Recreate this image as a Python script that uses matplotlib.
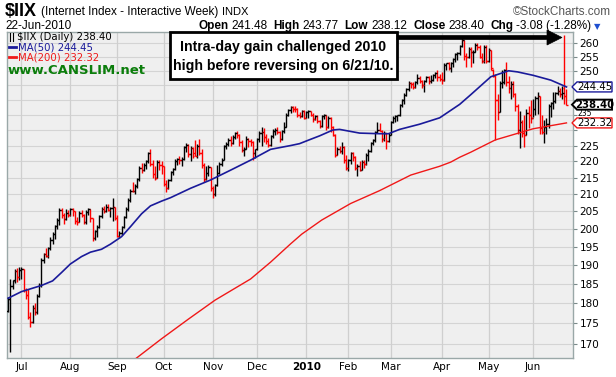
import numpy as np
import pandas as pd
import matplotlib
matplotlib.use('Agg')
import matplotlib.pyplot as plt
from matplotlib.patches import Polygon, Rectangle
from matplotlib.ticker import FixedLocator, FixedFormatter, NullLocator

W, H = 616, 377

# торговые дни 23.06.2009 - 22.06.2010 (без праздников NYSE)
holidays = ['2009-07-03', '2009-09-07', '2009-11-26', '2009-12-25', '2010-01-01',
            '2010-01-18', '2010-02-15', '2010-04-02', '2010-05-31']
dates = pd.bdate_range('2009-06-23', '2010-06-22')
dates = dates[~dates.isin(pd.to_datetime(holidays))]

# OHLC по дням (оценка по картинке)
opens = [
    178.0, 181.0, 184.5, 186.0, 188.4, 186.8,
    188.8, 188.9, 183.5, 182.0, 176.5, 175.2, 178.8, 177.8, 181.8, 184.8, 191.5, 193.0, 192.5, 194.6, 197.0, 198.6,
    200.8, 202.6, 205.5, 204.0, 202.8, 204.5,
    204.0, 205.7, 205.0, 202.3, 202.0, 204.5, 204.0, 201.8, 204.8, 205.6, 203.0, 197.3, 199.3, 200.6, 203.6, 205.8,
    205.0, 206.3, 205.5, 205.9, 206.2,
    203.0, 198.0, 198.8, 200.5, 203.5, 205.8, 208.3, 211.0, 210.9, 212.6, 214.5, 218.0, 217.5, 219.0, 220.0, 222.5,
    219.2, 216.0, 215.0, 219.8, 218.8,
    218.5, 213.0, 212.0, 214.2, 216.6, 217.7, 220.2, 220.9, 220.5, 220.8, 224.5, 225.2, 222.3, 224.2, 222.5, 221.7,
    224.8, 222.5, 219.0, 214.5, 216.5, 218.2,
    211.8, 210.0, 212.8, 216.5, 219.3, 220.6, 225.0, 225.4, 226.8, 225.8, 227.8, 229.0, 228.5, 226.0, 223.5, 224.0,
    227.0, 226.5, 226.2, 222.5,
    223.8, 227.0, 229.0, 229.3, 227.8, 226.5, 225.2, 228.0, 229.8, 230.0, 229.5, 227.0, 229.6, 231.0, 235.0, 236.5,
    237.6, 237.0, 236.8, 235.0, 234.6, 236.2,
    234.0, 236.0, 236.2, 235.0, 233.5, 234.6, 233.0, 231.2, 234.5, 234.8, 231.0, 234.0, 231.0, 228.5, 222.0, 224.0,
    223.2, 224.5, 220.5,
    218.0, 220.3, 222.5, 221.5, 218.0, 218.6, 217.5, 219.8, 219.3, 222.0, 223.3, 225.8, 226.8, 229.3, 230.0, 229.8,
    227.0, 229.0, 226.5,
    228.5, 232.5, 234.0, 234.5, 234.8, 238.2, 240.0, 241.8, 243.6, 245.8, 245.3, 244.5, 246.2, 247.5, 246.5, 245.0,
    246.6, 248.0, 246.5, 247.0, 248.6, 249.2, 248.0,
    247.2, 246.8, 252.2, 252.8, 251.0, 253.0, 254.2, 256.0, 256.6, 259.0, 261.2, 255.5, 255.0, 258.0, 256.8, 257.0,
    259.5, 258.5, 255.0, 253.5, 258.5,
    253.5, 257.5, 250.5, 248.2, 240.0, 236.0, 245.8, 246.0, 250.3, 246.0, 244.0, 245.5, 242.0, 238.0, 230.0, 232.5,
    229.0, 228.5, 235.5, 235.0,
    234.0, 237.0, 240.5, 241.2, 230.5, 229.5, 231.0, 232.0, 237.8, 238.8, 239.5, 242.2, 243.0, 242.0, 244.0, 241.48,
]
highs = [
    181.6, 186.3, 186.0, 189.0, 189.3, 189.5,
    189.4, 189.0, 184.0, 183.6, 177.8, 179.5, 180.0, 182.3, 185.2, 192.0, 193.2, 194.7, 195.0, 197.6, 199.0, 201.2,
    203.0, 206.0, 206.0, 204.5, 205.8, 205.5,
    206.0, 206.0, 205.2, 203.5, 205.0, 205.5, 204.3, 205.3, 206.0, 205.8, 203.0, 199.8, 201.0, 204.0, 206.3, 206.5,
    207.2, 207.0, 206.4, 209.0, 206.2,
    204.0, 199.5, 200.8, 203.8, 206.2, 208.8, 211.5, 213.6, 213.0, 215.0, 218.5, 219.5, 219.5, 220.3, 223.0, 223.8,
    220.5, 218.5, 220.3, 220.4, 220.0,
    218.5, 214.2, 214.6, 217.0, 218.0, 220.8, 221.2, 221.8, 221.5, 225.0, 225.9, 225.4, 224.8, 224.5, 226.7, 225.4,
    227.0, 223.8, 219.5, 218.7, 219.0, 218.3,
    212.5, 213.2, 219.0, 219.7, 221.0, 225.3, 226.2, 227.4, 228.0, 228.3, 229.4, 229.8, 228.8, 226.8, 224.4, 228.0,
    227.5, 227.0, 226.4, 224.0,
    227.5, 229.8, 231.0, 230.8, 228.7, 227.5, 228.5, 230.4, 230.8, 231.0, 229.8, 230.0, 232.7, 235.5, 236.8, 237.9,
    237.9, 237.8, 237.2, 236.0, 236.5, 236.5,
    236.3, 236.5, 236.3, 235.6, 235.0, 235.0, 233.4, 235.0, 235.2, 234.9, 234.5, 234.2, 231.2, 228.7, 224.4, 225.0,
    226.2, 225.0, 222.0,
    220.7, 223.0, 223.0, 221.6, 219.2, 220.0, 220.3, 220.5, 222.5, 223.8, 226.2, 227.0, 229.8, 232.5, 232.3, 230.0,
    229.8, 229.1, 229.0,
    232.8, 234.5, 235.0, 235.0, 238.6, 240.4, 242.2, 244.0, 246.5, 246.0, 246.0, 246.5, 249.0, 248.3, 247.0, 247.0,
    248.3, 248.2, 248.5, 249.0, 249.6, 250.2, 249.0,
    249.6, 252.7, 253.0, 253.3, 253.3, 254.5, 256.3, 257.0, 259.4, 261.8, 261.2, 256.3, 258.8, 258.8, 257.5, 260.0,
    260.0, 259.4, 256.3, 259.4, 259.4,
    258.2, 257.5, 250.8, 249.0, 242.0, 246.5, 250.2, 250.8, 253.3, 248.3, 246.5, 246.5, 242.5, 238.6, 236.3, 233.3,
    235.0, 236.8, 238.1, 239.9,
    240.2, 241.4, 242.7, 241.5, 235.0, 233.3, 233.8, 238.7, 239.2, 242.7, 242.7, 244.7, 244.0, 244.7, 263.0, 243.77,
]
lows = [
    177.8, 168.0, 183.7, 185.2, 185.5, 186.0,
    186.4, 183.0, 181.0, 176.0, 174.0, 175.0, 177.0, 177.3, 181.5, 184.3, 190.5, 192.1, 192.0, 194.2, 195.8, 197.2,
    200.0, 201.2, 203.0, 201.5, 202.5, 203.5,
    203.8, 203.8, 201.5, 201.0, 201.8, 203.3, 201.3, 201.5, 204.0, 202.0, 196.6, 197.0, 197.8, 200.3, 203.0, 204.6,
    204.8, 205.0, 203.5, 202.2, 202.5,
    197.6, 197.3, 198.2, 200.3, 203.0, 205.2, 207.8, 210.6, 210.0, 212.0, 214.0, 216.5, 217.0, 217.8, 219.5, 218.5,
    215.0, 214.3, 215.0, 217.5, 216.0,
    212.5, 210.8, 211.5, 214.0, 215.8, 217.5, 219.0, 219.2, 218.6, 220.5, 223.0, 221.5, 220.0, 221.0, 221.6, 221.0,
    222.0, 218.0, 213.7, 214.3, 215.5, 211.0,
    209.0, 209.5, 212.6, 216.2, 218.5, 220.4, 223.8, 225.0, 225.0, 225.5, 227.0, 227.5, 225.0, 222.8, 221.7, 224.0,
    224.6, 225.0, 220.4, 221.0,
    223.5, 226.2, 225.0, 226.0, 225.5, 224.4, 224.8, 227.5, 228.5, 228.8, 226.2, 226.8, 229.1, 231.0, 234.5, 235.5,
    235.8, 236.0, 234.2, 234.0, 234.2, 233.7,
    233.8, 234.0, 234.5, 232.6, 233.2, 232.2, 230.6, 231.0, 233.5, 230.0, 230.5, 229.5, 227.9, 221.3, 222.0, 222.5,
    222.4, 219.5, 217.3,
    217.0, 219.2, 220.0, 217.5, 215.4, 217.0, 217.2, 218.0, 218.8, 220.0, 223.0, 225.2, 226.0, 229.0, 229.7, 226.2,
    226.5, 223.8, 226.0,
    228.4, 232.2, 232.5, 233.0, 234.5, 237.6, 238.6, 241.5, 243.0, 244.2, 243.6, 244.0, 245.5, 245.9, 244.0, 242.8,
    246.0, 245.3, 245.8, 246.5, 247.5, 246.5, 246.5,
    245.3, 246.5, 250.5, 250.2, 249.6, 251.4, 253.3, 253.9, 255.7, 258.8, 254.0, 251.4, 254.5, 251.4, 252.7, 257.0,
    257.5, 254.5, 252.7, 253.0, 252.7,
    253.3, 250.2, 247.8, 226.8, 233.3, 236.0, 244.0, 245.5, 244.7, 242.5, 240.4, 241.0, 236.3, 228.7, 224.1, 227.7,
    224.4, 228.5, 230.8, 232.2,
    234.2, 234.8, 235.3, 228.8, 228.8, 225.8, 228.8, 230.5, 234.4, 236.8, 239.0, 241.8, 241.0, 240.4, 238.6, 238.12,
]
closes = [
    181.0, 184.5, 185.8, 188.4, 186.8, 188.8,
    188.9, 183.5, 182.0, 176.5, 175.2, 178.8, 177.8, 181.8, 184.8, 191.5, 193.0, 192.5, 194.6, 197.0, 198.6, 200.8,
    202.6, 205.5, 204.0, 202.8, 204.5, 204.0,
    205.7, 205.0, 202.3, 202.0, 204.5, 204.0, 201.8, 204.8, 205.6, 203.0, 197.3, 199.3, 200.6, 203.6, 205.8, 205.0,
    206.3, 205.5, 205.9, 206.2, 203.0,
    198.0, 198.8, 200.5, 203.5, 205.8, 208.3, 211.0, 210.9, 212.6, 214.5, 218.0, 217.5, 219.0, 220.0, 222.5, 219.2,
    216.0, 215.0, 219.8, 218.8, 218.5,
    213.0, 212.0, 214.2, 216.6, 217.7, 220.2, 220.9, 220.5, 220.8, 224.5, 225.2, 222.3, 224.2, 221.8, 221.7, 224.8,
    222.5, 219.0, 214.5, 216.5, 218.2, 211.8,
    210.0, 212.8, 216.5, 219.3, 220.6, 225.0, 225.4, 226.8, 225.8, 227.8, 229.0, 228.5, 226.0, 223.5, 224.0, 227.0,
    226.5, 226.2, 222.5, 223.8,
    227.0, 229.0, 229.3, 227.8, 226.5, 225.2, 228.0, 229.8, 230.0, 229.5, 227.0, 229.6, 231.0, 235.0, 236.5, 237.6,
    237.0, 236.8, 235.0, 234.6, 236.2, 234.0,
    236.0, 236.2, 235.0, 233.5, 234.6, 233.0, 231.2, 234.5, 234.8, 231.0, 234.0, 231.0, 228.5, 222.0, 224.0, 223.2,
    224.5, 220.5, 218.0,
    220.3, 222.5, 221.5, 218.0, 218.6, 217.5, 219.8, 219.3, 222.0, 223.3, 225.8, 226.8, 229.3, 230.0, 229.8, 227.0,
    229.0, 226.5, 228.5,
    232.5, 234.0, 234.5, 234.8, 238.2, 240.0, 241.8, 243.6, 245.8, 245.3, 244.5, 246.2, 247.5, 246.5, 245.0, 246.6,
    248.0, 246.5, 247.0, 248.6, 249.2, 248.0, 247.2,
    246.8, 252.2, 252.8, 251.0, 253.0, 254.2, 256.0, 256.6, 259.0, 261.2, 255.5, 255.0, 258.0, 256.8, 257.0, 259.5,
    258.5, 255.0, 253.5, 258.5, 253.5,
    257.5, 251.0, 248.2, 240.0, 236.0, 245.8, 246.0, 250.3, 246.0, 244.0, 245.5, 242.0, 238.0, 230.0, 232.5, 229.0,
    228.5, 235.5, 235.0, 234.0,
    237.0, 240.5, 241.2, 230.5, 229.5, 231.0, 232.0, 237.8, 238.8, 239.5, 242.2, 243.0, 242.0, 242.5, 241.48, 238.40,
]

# скользящие средние, точки по картинке (индекс бара, значение)
ma50_idx = [0, 6, 15, 20, 24, 28, 33, 37, 42, 46, 51, 55, 60, 64, 69, 73, 82, 91, 100, 109, 118, 127, 131, 136,
            140, 146, 149, 158, 167, 171, 176, 185, 194, 203, 208, 217, 225, 229, 236, 244, 251]
ma50_val = [181.3, 183.0, 184.6, 185.8, 188.0, 190.3, 192.3, 193.5, 194.3, 195.7, 197.8, 200.6, 204.3, 206.6,
            208.0, 209.0, 211.8, 214.3, 217.3, 220.4, 223.8, 225.0, 225.6, 227.0, 228.1, 230.0, 230.2, 229.0,
            228.8, 228.8, 230.2, 231.9, 234.0, 238.5, 241.8, 248.0, 250.1, 249.7, 248.5, 246.8, 244.45]
ma200_idx = [55, 69, 81, 93, 109, 118, 127, 132, 141, 154, 167, 181, 194, 199, 203, 208, 219, 236, 251]
ma200_val = [165.5, 171.2, 176.0, 180.8, 186.3, 190.8, 195.8, 198.5, 202.5, 207.3, 211.1, 215.8, 218.5, 219.8,
             221.3, 222.9, 226.8, 230.4, 232.32]

month_names = ['Jul', 'Aug', 'Sep', 'Oct', 'Nov', 'Dec', '2010', 'Feb', 'Mar', 'Apr', 'May', 'Jun']
yticks = list(range(170, 261, 5))
hidden_ticks = [230, 235, 240, 245]   # закрыты метками справа (235 рисуется поверх отдельно)

n = len(closes)
x = np.arange(n)
o = np.array(opens); h = np.array(highs); l = np.array(lows); c = np.array(closes)
prev = np.r_[c[0], c[:-1]]
colors = np.where(c < prev, '#ff0000', '#000000')

fig = plt.figure(figsize=(W / 100, H / 100), dpi=100)
ax = fig.add_axes([7 / W, 19 / H, 565.7 / W, 326 / H])
ax.set_facecolor('#efefef')
ax.set_yscale('log')
ax.set_ylim(166.6, 264.2)
ax.set_xlim(-0.5, 253.8)

# сетка
month_start = [i for i in range(1, n) if dates[i].month != dates[i - 1].month]
for v in yticks:
    ax.axhline(v, color='#d4d4d4', lw=0.8, zorder=0)
for i in month_start:
    ax.axvline(i, color='#cfcfcf', lw=0.9, zorder=0)

# бары
ax.vlines(x, l, h, colors=colors, lw=1.0, zorder=3)
ax.hlines(o, x - 0.75, x, colors=colors, lw=1.0, zorder=3)
ax.hlines(c, x, x + 0.75, colors=colors, lw=1.0, zorder=3)

ax.plot(ma50_idx, ma50_val, color='#1a1a9a', lw=1.2, zorder=4)
ax.plot(ma200_idx, ma200_val, color='#f01818', lw=1.0, zorder=4)

ax.yaxis.tick_right()
ax.yaxis.set_major_locator(FixedLocator(yticks))
ax.yaxis.set_major_formatter(FixedFormatter(['' if v in hidden_ticks else str(v) for v in yticks]))
ax.yaxis.set_minor_locator(NullLocator())
ax.tick_params(axis='y', length=3, width=0.8, color='#7a8a8a', labelsize=7.5, pad=2)
ax.set_xticks(month_start)
ax.set_xticklabels(month_names)
ax.tick_params(axis='x', length=0, labelsize=7.5, pad=3)
for t in ax.get_xticklabels():
    if t.get_text() == '2010':
        t.set_fontweight('bold')
for s in ax.spines.values():
    s.set_color('#9aa8a8')
    s.set_linewidth(1.0)

fig.canvas.draw()
rend = fig.canvas.get_renderer()


def fx(px):
    return px / W


def fy(py):
    return 1 - py / H


def seq_text(x0, y0, parts):
    xx = x0
    for s, kw, gap in parts:
        t = fig.text(fx(xx), fy(y0), s, va='center', ha='left', **kw)
        xx += t.get_window_extent(renderer=rend).width + gap
    return xx


# заголовок
seq_text(5, 12, [(r'\$IIX', dict(fontsize=13, fontweight='bold', family='Liberation Sans'), 4),
                 ('(Internet Index - Interactive Week)', dict(fontsize=8.5, family='Liberation Sans'), 4),
                 ('INDX', dict(fontsize=8, family='Liberation Sans'), 0)])
fig.text(fx(611), fy(12), '\u00a9StockCharts.com', ha='right', va='center', fontsize=8.5,
         color='#555555', family='Liberation Sans')
fig.text(fx(5), fy(26), '22-Jun-2010', ha='left', va='center', fontsize=8.5, family='Liberation Sans')
bold = dict(fontsize=8.5, fontweight='bold', family='Liberation Sans')
norm = dict(fontsize=8.5, family='Liberation Sans')
xe = seq_text(198, 26, [('Open', bold, 3), ('241.48', norm, 6), ('High', bold, 3), ('243.77', norm, 6),
                        ('Low', bold, 3), ('238.12', norm, 6), ('Close', bold, 3), ('238.40', norm, 6),
                        ('Chg', bold, 3), ('-3.08 (-1.28%)', norm, 3)])
fig.text(fx(xe), fy(27), '\u25bc', ha='left', va='center', fontsize=6, color='#1f4fd0')

# легенда внутри графика
fig.add_artist(plt.Line2D([fx(10), fx(10)], [fy(33), fy(41)], color='k', lw=0.8))
fig.add_artist(plt.Line2D([fx(13), fx(13)], [fy(33), fy(41)], color='k', lw=0.8))
fig.text(fx(17), fy(37), r'\$IIX (Daily) 238.40', ha='left', va='center', fontsize=7.3)
fig.add_artist(plt.Line2D([fx(9), fx(16)], [fy(47), fy(47)], color='#1a1a9a', lw=2))
fig.text(fx(18), fy(47), 'MA(50) 244.45', ha='left', va='center', fontsize=7.3, color='#1a1a9a')
fig.add_artist(plt.Line2D([fx(9), fx(16)], [fy(57), fy(57)], color='#f01818', lw=2))
fig.text(fx(18), fy(57), 'MA(200) 232.32', ha='left', va='center', fontsize=7.3, color='#f01818')
fig.text(fx(8), fy(70), 'www.CANSLIM.net', ha='left', va='center', fontsize=9.5, fontweight='bold',
         color='#0b7d0b')

# аннотация со стрелкой
fig.add_artist(Rectangle((fx(170), fy(79)), (397 - 170) / W, (79 - 32) / H, transform=fig.transFigure,
                         fc='white', ec='black', lw=2, zorder=6))
fig.text(fx(283.5), fy(47), 'Intra-day gain challenged 2010', ha='center', va='center', fontsize=10.2,
         fontweight='bold', family='Liberation Sans', zorder=7)
fig.text(fx(283.5), fy(66), 'high before reversing on 6/21/10.', ha='center', va='center', fontsize=10.2,
         fontweight='bold', family='Liberation Sans', zorder=7)
arrow = [(397, 35.5), (547, 35.5), (547, 30), (562, 37.5), (547, 45), (547, 39.5), (397, 39.5)]
fig.add_artist(Polygon([(fx(a), fy(b)) for a, b in arrow], closed=True, transform=fig.transFigure,
                       fc='black', ec='black', lw=0.5, zorder=6))

# метки значений справа
for val, txt, ec, lw, fw in [(244.45, '244.45', '#1a1a9a', 1.0, 'normal'),
                             (238.40, '238.40', '#000000', 1.4, 'bold'),
                             (232.32, '232.32', '#f01818', 1.0, 'normal')]:
    ypx = H - ax.transData.transform((0, val))[1]
    pts = [(572, ypx), (577, ypx - 5), (612, ypx - 5), (612, ypx + 5), (577, ypx + 5)]
    fig.add_artist(Polygon([(fx(a), fy(b)) for a, b in pts], closed=True, transform=fig.transFigure,
                           fc='white', ec=ec, lw=lw, zorder=8))
    fig.text(fx(595), fy(ypx), txt, ha='center', va='center', fontsize=7.3, fontweight=fw, zorder=9)

# подпись 235 между метками
y235 = H - ax.transData.transform((0, 235))[1]
fig.text(fx(578), fy(y235 - 1), '235', ha='left', va='center', fontsize=5.5, zorder=10)

fig.savefig('out.png', dpi=100)
